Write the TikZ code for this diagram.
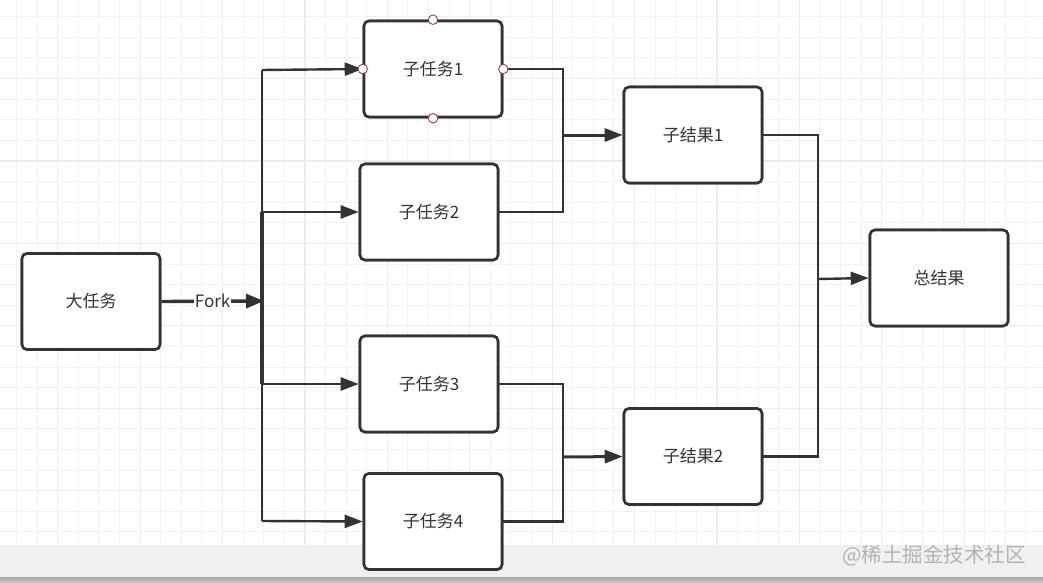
\documentclass[tikz,border=0pt]{standalone}
\usepackage{fontspec}
\setmainfont{Noto Sans CJK SC}
\usetikzlibrary{arrows.meta}
\definecolor{ink}{HTML}{333333}
\definecolor{gminor}{HTML}{F2F2F2}
\definecolor{gmajor}{HTML}{ECECEC}
\definecolor{barc}{HTML}{F0F0F0}
\definecolor{ptc}{HTML}{9A4050}
\definecolor{wmc}{HTML}{B3B3B3}
\tikzset{
  taskbox/.style={draw=ink, line width=2.6pt, rounded corners=5pt, fill=white,
    minimum width=138pt, minimum height=96pt, inner sep=0pt,
    font=\fontsize{17}{19}\selectfont, text=ink},
  conn/.style={draw=ink, line width=2.4pt},
  arr/.style={conn, -{Triangle[length=18pt,width=13pt]}},
  pt/.style={circle, draw=ptc, fill=white, line width=0.9pt, minimum size=9.5pt, inner sep=0pt},
}
\begin{document}
\begin{tikzpicture}[x=1pt,y=-1pt]
\useasboundingbox (0,0) rectangle (1043,583);
\fill[white] (0,0) rectangle (1043,583);
% grid
\foreach \k in {0,...,50}{
  \pgfmathsetmacro\xx{16.5+20.6*\k}
  \pgfmathtruncatemacro\m{mod(\k,4)}
  \ifnum\m=2 \draw[gmajor,line width=1.2pt] (\xx,0) -- (\xx,545);
  \else \draw[gminor,line width=1pt] (\xx,0) -- (\xx,545); \fi
}
\foreach \k in {0,...,25}{
  \pgfmathsetmacro\yy{16.8+20.6*\k}
  \pgfmathtruncatemacro\m{mod(\k,4)}
  \ifnum\m=3 \draw[gmajor,line width=1.2pt] (0,\yy) -- (1043,\yy);
  \else \draw[gminor,line width=1pt] (0,\yy) -- (1043,\yy); \fi
}
% bottom bar
\fill[barc] (0,545) rectangle (1043,577);
\shade[top color=gray!70, bottom color=gray!40] (0,577) rectangle (1043,583);

% nodes
\node[taskbox] (big) at (91,301.5) {大任务};
\node[taskbox] (t1) at (433,69) {子任务1};
\node[taskbox] (t2) at (429,212) {子任务2};
\node[taskbox] (t3) at (429,384) {子任务3};
\node[taskbox] (t4) at (433,521.5) {子任务4};
\node[taskbox] (r1) at (693,135) {子结果1};
\node[taskbox] (r2) at (693,456.5) {子结果2};
\node[taskbox] (total) at (939,278) {总结果};

% coordinates
\coordinate (F) at (264,301);
\coordinate (a1) at (262,70);
\coordinate (a2) at (262,212);
\coordinate (a3) at (262,384);
\coordinate (a4) at (262,521);
\coordinate (j1) at (563,135);
\coordinate (j2) at (563,457);
\coordinate (j3) at (818,279);

% connectors
\draw[conn] (a1) -- (a4);
\draw[conn, line width=3.4pt] (a2) -- (a3);
\draw[arr] (a1) -- (t1.west);
\draw[arr] (a2) -- (t2.west);
\draw[arr] (a3) -- (t3.west);
\draw[arr] (a4) -- (t4.west);
\draw[conn, line width=3.4pt, -{Triangle[length=18pt,width=14pt]}] (big.east) -- node[fill=white, inner sep=1pt, font=\fontsize{17}{19}\selectfont, text=ink] (fork) {Fork} (F);

\draw[conn] (t1.east) -| (j1);
\draw[conn] (t2.east) -| (j1);
\draw[arr, line width=3pt] (j1) -- (r1.west);
\draw[conn] (t3.east) -| (j2);
\draw[conn] (t4.east) -| (j2);
\draw[arr, line width=3pt] (j2) -- (r2.west);
\draw[conn] (r1.east) -| (j3);
\draw[conn] (r2.east) -| (j3);
\draw[arr] (j3) -- (total.west);

% redraw boxes on top
\node[taskbox] at (big) {大任务};
\node[taskbox] at (t1) {子任务1};
\node[taskbox] at (t2) {子任务2};
\node[taskbox] at (t3) {子任务3};
\node[taskbox] at (t4) {子任务4};
\node[taskbox] at (r1) {子结果1};
\node[taskbox] at (r2) {子结果2};
\node[taskbox] at (total) {总结果};

% connection points on selected box
\node[pt] (p1) at (t1.north) {};
\node[pt] (p2) at (t1.south) {};
\node[pt] (p3) at (t1.west) {};
\node[pt] (p4) at (t1.east) {};

% watermark
\node[anchor=east, text=wmc, font=\fontsize{20.5}{22}\selectfont, inner sep=0pt] (wm) at (1026,556) {@稀土掘金技术社区};
\end{tikzpicture}
\end{document}
